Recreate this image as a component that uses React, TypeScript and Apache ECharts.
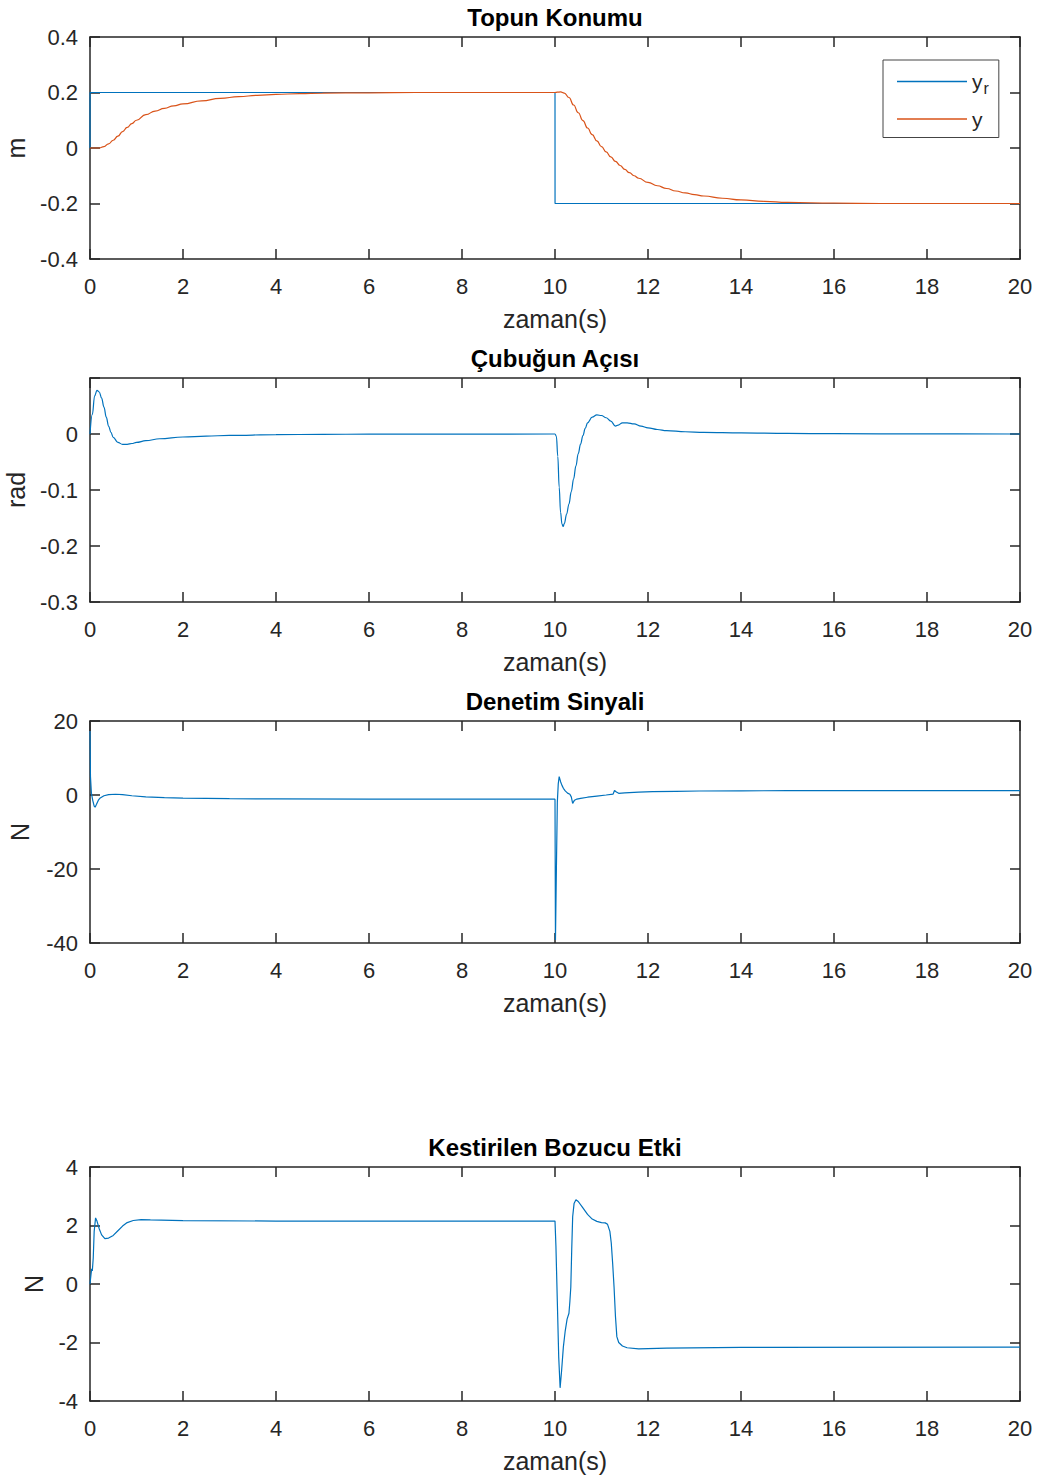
import React, { useEffect, useRef } from "react";
import * as echarts from "echarts";

// ---------- data ----------
const titles = ["Topun Konumu", "Çubuğun Açısı", "Denetim Sinyali", "Kestirilen Bozucu Etki"];
const yNames = ["m", "rad", "N", "N"];
const xName = "zaman(s)";

// reference position y_r
const refPosition: [number, number][] = [
  [0, 0], [0.001, 0.2], [10, 0.2], [10.001, -0.2], [20, -0.2],
];

// ball position y
const ballPosition: [number, number][] = [
  [0, 0], [0.2, 0], [0.3, 0.005], [0.4, 0.015], [0.5, 0.028], [0.6, 0.043], [0.7, 0.059],
  [0.8, 0.074], [0.9, 0.088], [1.0, 0.1], [1.2, 0.12], [1.4, 0.133], [1.6, 0.143], [1.8, 0.152],
  [2.0, 0.159], [2.4, 0.17], [2.8, 0.179], [3.2, 0.185], [3.6, 0.19], [4.0, 0.193], [4.5, 0.196],
  [5, 0.198], [6, 0.199], [7, 0.2], [10, 0.2], [10.05, 0.201], [10.12, 0.202], [10.2, 0.198],
  [10.3, 0.182], [10.4, 0.155], [10.5, 0.127], [10.6, 0.099], [10.7, 0.072], [10.8, 0.048],
  [10.9, 0.026], [11.0, 0.005], [11.1, -0.014], [11.2, -0.032], [11.3, -0.048], [11.4, -0.063],
  [11.5, -0.077], [11.6, -0.089], [11.7, -0.1], [11.8, -0.109], [12.0, -0.124], [12.2, -0.136],
  [12.4, -0.146], [12.6, -0.155], [12.8, -0.162], [13.0, -0.168], [13.2, -0.173], [13.6, -0.181],
  [14.0, -0.187], [14.5, -0.192], [15, -0.196], [16, -0.199], [17, -0.2], [20, -0.2],
];

// rod angle
const rodAngle: [number, number][] = [
  [0, 0], [0.05, 0.035], [0.1, 0.068], [0.15, 0.078], [0.2, 0.075], [0.25, 0.064], [0.3, 0.048],
  [0.35, 0.03], [0.4, 0.014], [0.45, 0.003], [0.5, -0.006], [0.6, -0.015], [0.7, -0.0185],
  [0.8, -0.0185], [0.9, -0.017], [1.0, -0.015], [1.2, -0.012], [1.5, -0.0085], [2, -0.0054],
  [2.5, -0.0037], [3, -0.0025], [4, -0.0012], [5, -0.0006], [6, -0.0003], [8, -0.0001], [10, 0],
  [10.03, -0.004], [10.06, -0.04], [10.09, -0.095], [10.12, -0.14], [10.15, -0.161], [10.175, -0.165],
  [10.2, -0.16], [10.25, -0.143], [10.3, -0.125], [10.35, -0.103], [10.4, -0.08], [10.45, -0.057],
  [10.5, -0.035], [10.55, -0.018], [10.6, -0.003], [10.65, 0.01], [10.7, 0.02], [10.8, 0.03],
  [10.9, 0.034], [11.0, 0.033], [11.1, 0.029], [11.2, 0.023], [11.3, 0.014], [11.36, 0.016],
  [11.45, 0.02], [11.55, 0.02], [11.7, 0.018], [11.85, 0.014], [12.0, 0.011], [12.2, 0.008],
  [12.4, 0.006], [12.8, 0.004], [13.2, 0.003], [14, 0.002], [15, 0.001], [16, 0.0005],
  [18, 0.0002], [20, 0],
];

// control signal
const controlSignal: [number, number][] = [
  [0, 17.3], [0.01, 5], [0.03, 0.5], [0.06, -1.5], [0.09, -3], [0.11, -3.3], [0.14, -2.5],
  [0.18, -1.4], [0.22, -0.8], [0.3, -0.2], [0.4, 0.1], [0.55, 0.2], [0.7, 0.1], [0.9, -0.2],
  [1.2, -0.5], [1.6, -0.7], [2, -0.85], [3, -1.0], [4, -1.05], [6, -1.1], [10, -1.12],
  [10.01, -39.2], [10.03, -20], [10.05, -2], [10.07, 3], [10.09, 4.95], [10.12, 3.6], [10.15, 2.6],
  [10.18, 1.8], [10.22, 1.1], [10.27, 0.5], [10.32, 0.2], [10.35, -0.5], [10.38, -2.25],
  [10.42, -1.4], [10.47, -1.1], [10.55, -0.9], [10.7, -0.6], [10.9, -0.3], [11.1, 0],
  [11.25, 0.25], [11.28, 1.2], [11.32, 0.8], [11.37, 0.45], [11.5, 0.6], [11.8, 0.8],
  [12.1, 0.9], [12.6, 1.0], [13.1, 1.08], [14, 1.13], [15, 1.16], [17, 1.18], [20, 1.18],
];

// estimated disturbance
const disturbance: [number, number][] = [
  [0, 0], [0.02, 0.3], [0.036, 0.52], [0.05, 0.45], [0.07, 0.9], [0.09, 1.8], [0.12, 2.26],
  [0.15, 2.15], [0.2, 1.88], [0.25, 1.68], [0.32, 1.55], [0.4, 1.57], [0.5, 1.66], [0.6, 1.82],
  [0.7, 1.98], [0.8, 2.1], [0.93, 2.17], [1.1, 2.2], [1.3, 2.19], [2, 2.17], [4, 2.15], [10, 2.15],
  [10.02, 1.3], [10.05, -0.6], [10.08, -2.5], [10.11, -3.55], [10.14, -3.0], [10.18, -2.15],
  [10.22, -1.6], [10.26, -1.2], [10.3, -1.0], [10.32, -0.6], [10.34, -0.1], [10.36, 1.2],
  [10.38, 2.3], [10.41, 2.75], [10.45, 2.88], [10.5, 2.82], [10.6, 2.6], [10.7, 2.38],
  [10.8, 2.22], [10.9, 2.14], [11.0, 2.1], [11.08, 2.09], [11.13, 2.04], [11.18, 1.8],
  [11.21, 1.4], [11.24, 0.7], [11.27, -0.1], [11.3, -1.1], [11.33, -1.8], [11.37, -2.0],
  [11.45, -2.12], [11.55, -2.18], [11.8, -2.22], [12.4, -2.19], [14, -2.17], [20, -2.16],
];

const yRanges: [number, number, number][] = [
  [-0.4, 0.4, 0.2],
  [-0.3, 0.1, 0.1],
  [-40, 20, 20],
  [-4, 4, 2],
];

// ---------- style / layout ----------
const FONT = "'Liberation Sans', Arial, Helvetica, sans-serif";
const AX = "#262626";
const BLUE = "#0072BD";
const ORANGE = "#D95319";
const GRIDS = [
  { top: 37, height: 222 },
  { top: 378, height: 224 },
  { top: 721, height: 222 },
  { top: 1167, height: 234 },
];
const Y_NAME_GAPS = [62, 62, 58, 44];

function fmtY(i: number) {
  return (v: number) => {
    if (i === 1 && Math.abs(v - 0.1) < 1e-9) return "";
    const r = Math.round(v * 1000) / 1000;
    return String(r);
  };
}

export default function App() {
  const ref = useRef<HTMLDivElement>(null);

  useEffect(() => {
    if (!ref.current) return;
    const chart = echarts.init(ref.current, undefined, { renderer: "svg" });

    const lineStyleAx = { color: AX, width: 1.5 };
    const xAxis: any[] = [];
    const yAxis: any[] = [];
    GRIDS.forEach((_, i) => {
      const base = {
        type: "value",
        gridIndex: i,
        min: 0,
        max: 20,
        interval: 2,
        splitLine: { show: false },
        axisLine: { show: true, onZero: false, lineStyle: lineStyleAx },
        axisTick: { show: true, inside: true, length: 10, lineStyle: lineStyleAx },
      };
      xAxis.push({
        ...base,
        position: "bottom",
        name: xName,
        nameLocation: "middle",
        nameGap: 47,
        nameTextStyle: { fontFamily: FONT, fontSize: 25, color: AX },
        axisLabel: { margin: 16, fontFamily: FONT, fontSize: 22, color: AX },
      });
      xAxis.push({ ...base, position: "top", axisLabel: { show: false } });

      const [mn, mx, iv] = yRanges[i];
      const ybase = {
        type: "value",
        gridIndex: i,
        min: mn,
        max: mx,
        interval: iv,
        splitLine: { show: false },
        axisLine: { show: true, onZero: false, lineStyle: lineStyleAx },
        axisTick: { show: true, inside: true, length: 10, lineStyle: lineStyleAx },
      };
      yAxis.push({
        ...ybase,
        position: "left",
        name: yNames[i],
        nameLocation: "middle",
        nameGap: Y_NAME_GAPS[i],
        nameTextStyle: { fontFamily: FONT, fontSize: 25, color: AX },
        axisLabel: { margin: 12, fontFamily: FONT, fontSize: 22, color: AX, formatter: fmtY(i) },
      });
      yAxis.push({ ...ybase, position: "right", axisLabel: { show: false } });
    });

    const mkSeries = (name: string, data: [number, number][], i: number, color: string, smooth: number | boolean) => ({
      type: "line",
      name,
      data,
      xAxisIndex: 2 * i,
      yAxisIndex: 2 * i,
      symbol: "none",
      showSymbol: false,
      smooth,
      smoothMonotone: "x",
      lineStyle: { color, width: 1.2 },
      itemStyle: { color },
      clip: true,
    });

    chart.setOption({
      animation: false,
      backgroundColor: "#ffffff",
      title: titles.map((t, i) => ({
        text: t,
        left: 555,
        top: GRIDS[i].top - 32,
        textAlign: "center",
        padding: 0,
        textStyle: { fontFamily: FONT, fontSize: 24, fontWeight: "bold", color: "#000" },
      })),
      grid: GRIDS.map((g) => ({
        left: 90,
        right: 20,
        top: g.top,
        height: g.height,
        containLabel: false,
        outerBoundsMode: "none",
      })),
      xAxis,
      yAxis,
      legend: {
        data: ["yr", "y"],
        left: 883,
        top: 60,
        orient: "vertical",
        icon: "rect",
        itemWidth: 70,
        itemHeight: 1.3,
        itemGap: 12,
        padding: [11, 10, 8, 14],
        borderColor: "#444",
        borderWidth: 1,
        backgroundColor: "#fff",
        selectedMode: false,
        formatter: (n: string) => (n === "yr" ? "{a|y}{b|r}" : "{a|y}"),
        textStyle: {
          fontFamily: FONT,
          fontSize: 21,
          color: AX,
          rich: {
            a: { fontFamily: FONT, fontSize: 21, color: AX },
            b: { fontFamily: FONT, fontSize: 16, color: AX, padding: [14, 0, 0, 1] },
          },
        },
      },
      series: [
        mkSeries("yr", refPosition, 0, BLUE, false),
        mkSeries("y", ballPosition, 0, ORANGE, 0.5),
        mkSeries("angle", rodAngle, 1, BLUE, 0.4),
        mkSeries("u", controlSignal, 2, BLUE, false),
        mkSeries("d", disturbance, 3, BLUE, false),
      ],
    });

    return () => chart.dispose();
  }, []);

  return (
    <div
      ref={ref}
      style={{ position: "absolute", left: 0, top: 0, width: 1040, height: 1481, background: "#fff" }}
    />
  );
}
